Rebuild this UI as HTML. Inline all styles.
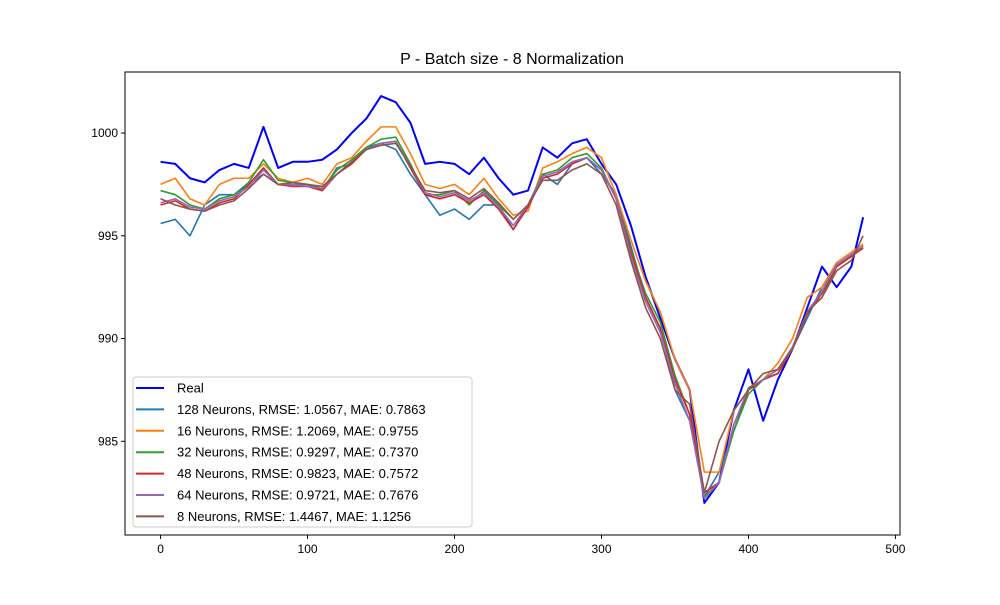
<!DOCTYPE html>
<html><head><meta charset="utf-8"><style>
body{margin:0;background:#fff;font-family:"Liberation Sans",sans-serif}
svg text{font-family:"Liberation Sans",sans-serif}
</style></head><body>
<svg id="chart" width="1000" height="600" xmlns="http://www.w3.org/2000/svg"></svg>
<script>
const xs = [0,10,20,30,40,50,60,70,80,90,100,110,120,130,140,150,160,170,180,190,200,210,220,230,240,250,260,270,280,290,300,310,320,330,340,350,360,370,380,390,400,410,420,430,440,450,460,470,478];
const seriesNames = ["Real","128 Neurons, RMSE: 1.0567, MAE: 0.7863","16 Neurons, RMSE: 1.2069, MAE: 0.9755","32 Neurons, RMSE: 0.9297, MAE: 0.7370","48 Neurons, RMSE: 0.9823, MAE: 0.7572","64 Neurons, RMSE: 0.9721, MAE: 0.7676","8 Neurons, RMSE: 1.4467, MAE: 1.1256"];
const seriesColors = ["#0000ff","#1f77b4","#ff7f0e","#2ca02c","#d62728","#9467bd","#8c564b"];
const realVals = [998.6,998.5,997.8,997.6,998.2,998.5,998.3,1000.3,998.3,998.6,998.6,998.7,999.2,1000.0,1000.7,1001.8,1001.5,1000.5,998.5,998.6,998.5,998.0,998.8,997.8,997.0,997.2,999.3,998.8,999.5,999.7,998.5,997.5,995.5,993.0,991.0,989.0,987.5,982.0,983.0,986.5,988.5,986.0,988.0,989.5,991.5,993.5,992.5,993.5,995.9];
const n128 = [995.6,995.8,995.0,996.5,997.0,997.0,997.5,998.0,997.5,997.5,997.5,997.2,998.3,998.5,999.3,999.5,999.2,998.0,997.0,996.0,996.3,995.8,996.5,996.5,995.3,996.5,998.0,997.5,998.5,998.8,998.0,997.0,994.5,992.0,990.5,987.5,986.0,982.3,983.5,985.5,987.5,988.0,988.3,989.5,991.0,992.5,993.5,994.0,994.5];
const n16 = [997.5,997.8,996.8,996.5,997.5,997.8,997.8,998.5,997.8,997.6,997.8,997.5,998.5,998.8,999.6,1000.3,1000.3,999.0,997.5,997.3,997.5,997.0,997.8,996.8,996.0,996.2,998.3,998.6,999.0,999.3,998.8,997.0,994.8,992.8,991.3,989.0,987.5,983.5,983.5,986.5,987.5,988.0,988.8,990.0,992.0,992.5,993.7,994.2,994.6];
const n32 = [997.2,997.0,996.5,996.3,996.8,997.0,997.6,998.7,997.7,997.6,997.5,997.3,998.2,998.7,999.3,999.7,999.8,998.5,997.0,997.0,997.2,996.5,997.2,996.5,995.8,996.5,998.0,998.2,998.8,999.0,998.3,996.8,994.3,992.2,990.8,988.2,986.3,982.3,983.0,985.5,987.3,988.0,988.5,989.5,991.3,992.0,993.5,994.0,994.5];
const n48 = [996.5,996.7,996.3,996.2,996.6,996.8,997.5,998.3,997.5,997.4,997.4,997.2,998.0,998.5,999.2,999.5,999.6,998.3,997.0,996.8,997.0,996.6,997.0,996.3,995.3,996.4,997.8,998.0,998.5,998.8,998.2,996.8,994.2,992.0,990.5,988.0,986.3,982.5,983.0,985.8,987.5,988.0,988.3,989.5,991.2,992.2,993.5,994.0,994.4];
const n64 = [996.6,996.8,996.4,996.3,996.7,996.9,997.4,998.2,997.5,997.5,997.4,997.3,998.0,998.6,999.2,999.5,999.6,998.4,997.1,996.9,997.1,996.7,997.1,996.4,995.5,996.5,997.9,998.1,998.6,998.8,998.2,996.8,994.0,991.8,990.3,987.8,986.0,982.2,983.0,985.8,987.6,988.0,988.5,989.6,991.3,992.3,993.6,994.1,994.5];
const n8 = [996.8,996.5,996.3,996.2,996.5,996.7,997.3,998.0,997.5,997.6,997.5,997.4,998.0,998.6,999.2,999.4,999.5,998.4,997.2,997.1,997.2,996.8,997.3,996.6,995.8,996.5,997.7,997.7,998.2,998.5,998.0,996.5,993.8,991.5,990.0,987.5,986.8,982.5,985.0,986.5,987.5,988.3,988.5,989.5,991.3,992.0,993.3,993.8,995.0];
const xTicks = [0,100,200,300,400,500];
const yTicks = [985,990,995,1000];

const svg = document.getElementById('chart');
const NS = "http://www.w3.org/2000/svg";
const L=125,R=900,T=72,B=535;
const X0=-24.2,X1=503.1,Y0=980.44,Y1=1002.97;
const sx=v=>L+(v-X0)/(X1-X0)*(R-L);
const sy=v=>B-(v-Y0)/(Y1-Y0)*(B-T);
function mk(tag,attrs,parent){const e=document.createElementNS(NS,tag);for(const k in attrs)e.setAttribute(k,attrs[k]);(parent||svg).appendChild(e);return e;}

const title=mk('text',{x:512,y:64,'text-anchor':'middle','font-size':16});
title.textContent="P - Batch size - 8 Normalization";



const all=[realVals,n128,n16,n32,n48,n64,n8];
all.forEach((vals,i)=>{
  const d=vals.map((v,j)=>(j?'L':'M')+sx(xs[j]).toFixed(2)+' '+sy(v).toFixed(2)).join(' ');
  const p=mk('path',{d:d,fill:'none',stroke:seriesColors[i],'stroke-width':i==0?2:1.6,'stroke-linejoin':'round'});
  
  
});

const frame=mk('rect',{x:L,y:T,width:R-L,height:B-T,fill:'none',stroke:'#000','stroke-width':1});



xTicks.forEach(t=>{
  const x=sx(t);
  mk('line',{x1:x,x2:x,y1:B,y2:B+4,stroke:'#000'});
  const tx=mk('text',{x:x,y:B+18,'text-anchor':'middle','font-size':12});
  tx.textContent=t;
  
  
});
yTicks.forEach(t=>{
  const y=sy(t);
  mk('line',{x1:L-4,x2:L,y1:y,y2:y,stroke:'#000'});
  const tx=mk('text',{x:L-7,y:y+4,'text-anchor':'end','font-size':12});
  tx.textContent=t;
  
  
});

const lg=mk('g',{});


mk('rect',{x:133,y:377,width:339,height:150,rx:3,fill:'#fff','fill-opacity':0.8,stroke:'#ccc'},lg);
seriesNames.forEach((nm,i)=>{
  const y=388+i*21.4;
  mk('line',{x1:136,x2:164,y1:y,y2:y,stroke:seriesColors[i],'stroke-width':2},lg);
  const tx=mk('text',{x:177,y:y+4.5,'font-size':13},lg);
  tx.textContent=nm;
  
  
});
</script>
</body></html>
